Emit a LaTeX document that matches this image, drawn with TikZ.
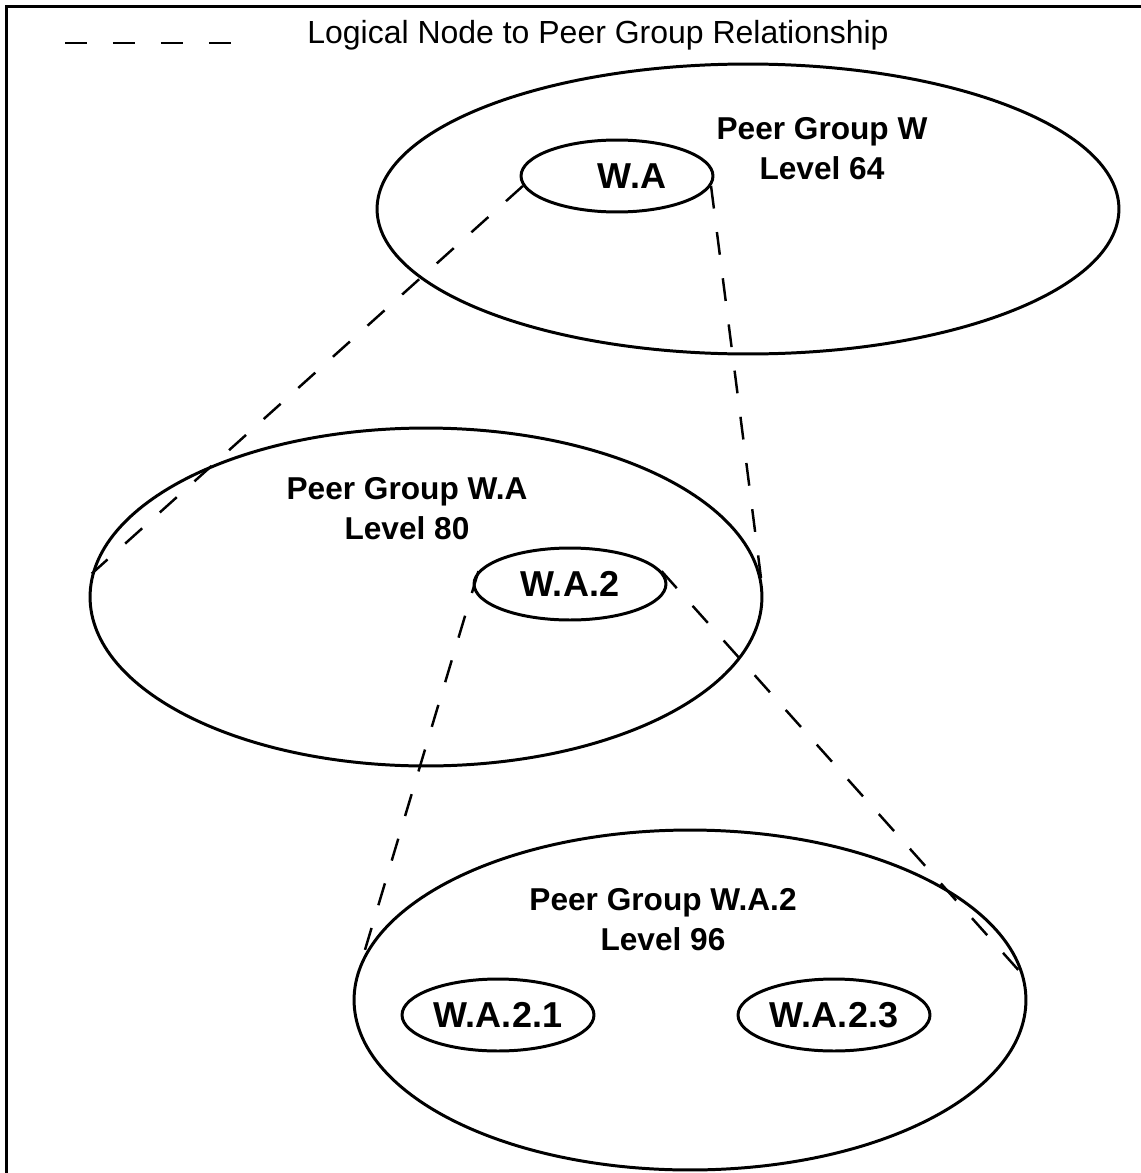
\documentclass[tikz,border=0pt]{standalone}
\usepackage{fontspec}
\setmainfont{Liberation Sans}
\usetikzlibrary{shapes.geometric}
\begin{document}
\begin{tikzpicture}[x=0.02cm,y=-0.02cm,
  group/.style={draw,ellipse,line width=1.7pt,inner sep=0pt},
  lnode/.style={draw,ellipse,line width=1.7pt,inner sep=0pt,minimum width=3.84cm,minimum height=1.44cm,font=\fontsize{20.5}{24}\selectfont\bfseries},
  glabel/.style={align=center,font=\fontsize{18}{22.8}\selectfont\bfseries},
  rel/.style={dash pattern=on 13pt off 13.5pt,line width=1.4pt}]
\useasboundingbox (0,0) rectangle (1141,1173);
\draw[line width=1.6pt] (6.5,1173) -- (6.5,6.5) -- (1141,6.5);
\coordinate (lega) at (65,43);
\coordinate (legb) at (231,43);
\draw[dash pattern=on 12.5pt off 14.8pt,line width=1.6pt] (lega) -- (legb);
\node[anchor=base,font=\fontsize{18.2}{22}\selectfont] (legtext) at (598,43) {Logical Node to Peer Group Relationship};
\node[group,minimum width=14.84cm,minimum height=5.8cm] (pgw) at (748,209) {};
\node[group,minimum width=13.44cm,minimum height=6.76cm] (pgwa) at (426,597) {};
\node[group,minimum width=13.44cm,minimum height=6.8cm] (pgwa2) at (690,1000) {};
\node[glabel] (pgwlbl) at (822,149) {Peer Group W\\Level 64};
\node[glabel] (pgwalbl) at (407,509) {Peer Group W.A\\Level 80};
\node[glabel] (pgwa2lbl) at (663,920) {Peer Group W.A.2\\Level 96};
\node[lnode] (wa) at (617,176) {\hspace*{0.6cm}W.A};
\node[lnode] (wa2) at (570,584) {W.A.2};
\node[lnode] (wa21) at (498,1015) {W.A.2.1};
\node[lnode] (wa23) at (834,1015) {W.A.2.3};
\draw[rel] (wa.186) -- (pgwa.176);
\draw[rel] (wa.354) -- (pgwa.east);
\draw[rel] (wa2.172) -- (pgwa2.173);
\draw[rel] (wa2.8) -- (pgwa2.4);
\end{tikzpicture}
\end{document}
